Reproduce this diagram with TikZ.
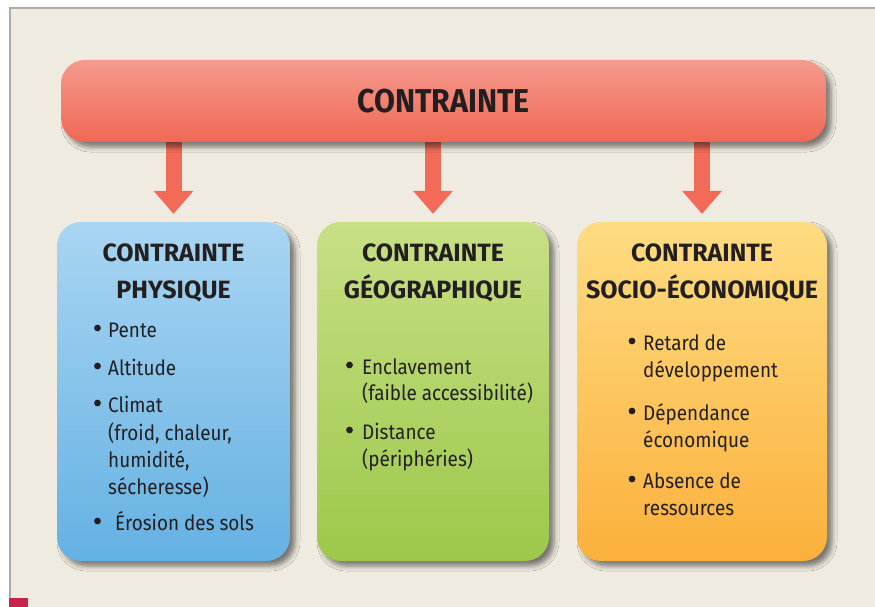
\documentclass[tikz,border=0pt]{standalone}
\usepackage{fontspec}
\setmainfont{Fira Sans}
\newfontfamily\bodyfont{Fira Sans}[FakeStretch=0.9]
\newfontfamily\barfont{Fira Sans}[FakeStretch=0.92]
\usepackage{tikz}
\usetikzlibrary{positioning}
\usetikzlibrary{calc}
\usetikzlibrary{arrows.meta}
\usetikzlibrary{backgrounds}
\usetikzlibrary{shadows.blur}
\definecolor{paper}{HTML}{EFEBE0}
\definecolor{borderGray}{HTML}{ABABAB}
\definecolor{cornerRed}{HTML}{C8234A}
\definecolor{ink}{HTML}{231F20}
\definecolor{barTop}{HTML}{F59A8C}
\definecolor{barBot}{HTML}{F06856}
\definecolor{arrowRed}{HTML}{F26A58}
\definecolor{physTop}{HTML}{A9D5F2}
\definecolor{physBot}{HTML}{64B1E3}
\definecolor{geoTop}{HTML}{C7DF85}
\definecolor{geoBot}{HTML}{9CC84A}
\definecolor{socTop}{HTML}{FEDC82}
\definecolor{socBot}{HTML}{FBB03B}
\tikzset{basic box/.style={rounded corners=24pt,
                           inner sep=0pt,
                           blur shadow={shadow xshift=5pt,shadow yshift=-5pt,
                                        shadow blur radius=5pt,shadow opacity=50}}}
\tikzset{group box/.style={basic box,minimum height=339pt}}
\tikzset{head text/.style={font=\bfseries\fontsize{25}{37}\selectfont,
                           text=ink,align=center,inner sep=0pt}}
\tikzset{item text/.style={font=\bodyfont\fontsize{21}{27}\selectfont,
                           text=ink,anchor=base west,inner sep=0pt}}
\tikzset{down arrow/.style={draw=arrowRed,
                            line width=16pt,
                            -{Triangle[width=40pt,length=23pt,line width=0pt]},
                            shorten >=8pt}}
\begin{document}
\begin{tikzpicture}
      [
      x=1pt,y=-1pt,
      bar box/.style={basic box,
      minimum width=765pt,
      minimum height=82pt,
      top color=barTop,bottom color=barBot,
      font=\barfont\bfseries\fontsize{33}{38}\selectfont,text=ink},
      ]

      \useasboundingbox (0,0) rectangle (875,607);

      % top bar
      \node [bar box] (top) at (443.5,101) {CONTRAINTE};

      % boxes
      \node [group box,minimum width=233pt,top color=physTop,bottom color=physBot] (phys) at (173.5,391.5) {};
      \node [group box,minimum width=232pt,top color=geoTop,bottom color=geoBot] (geo) at (433,391.5) {};
      \node [group box,minimum width=250pt,top color=socTop,bottom color=socBot] (soc) at (702,391.5) {};

      % headings
      \node [head text,below=22pt of phys.north] (physhead) {CONTRAINTE\\PHYSIQUE};
      \node [head text,below=22pt of geo.north] (geohead) {CONTRAINTE\\GÉOGRAPHIQUE};
      \node [head text,below=22pt of soc.north] (sochead) {CONTRAINTE\\SOCIO-ÉCONOMIQUE};

      % items
      \foreach \y/\b/\t in
      {
      337/1/Pente,
      375/1/Altitude,
      412/1/Climat,
      440/0/{(froid, chaleur,},
      467/0/{humidité,},
      494/0/{sécheresse)},
      530/1/{\hspace*{7pt}Érosion des sols}
      }
      {
      \node [item text] (phys item \y) at (108,\y) {\t};
      \ifnum\b=1 \fill [ink] (97.5,\y-9) circle (3.4pt); \fi
      }

      \foreach \y/\b/\t in
      {
      374/1/Enclavement,
      400/0/{(faible accessibilité)},
      439/1/Distance,
      466/0/{(périphéries)}
      }
      {
      \node [item text] (geo item \y) at (362,\y) {\t};
      \ifnum\b=1 \fill [ink] (349.5,\y-9) circle (3.4pt); \fi
      }

      \foreach \y/\b/\t in
      {
      350/1/Retard de,
      377/0/développement,
      420/1/Dépendance,
      447/0/économique,
      488/1/Absence de,
      515/0/ressources
      }
      {
      \node [item text] (soc item \y) at (643,\y) {\t};
      \ifnum\b=1 \fill [ink] (632,\y-9) circle (3.4pt); \fi
      }

      \begin{scope}[on background layer]
      % page
      \fill [white] (0,0) rectangle (875,607);
      \fill [paper] (10,8) rectangle (875,607);
      \draw [borderGray,line width=1.5pt] (10,607) -- (10,8) -- (875,8);
      \fill [cornerRed] (9,598) rectangle (28,607);

      % arrows
      \foreach \b in {phys,geo,soc}
      \draw [down arrow] (top.center -| \b.north) -- (\b.north);
      \end{scope}

\end{tikzpicture}
\end{document}
